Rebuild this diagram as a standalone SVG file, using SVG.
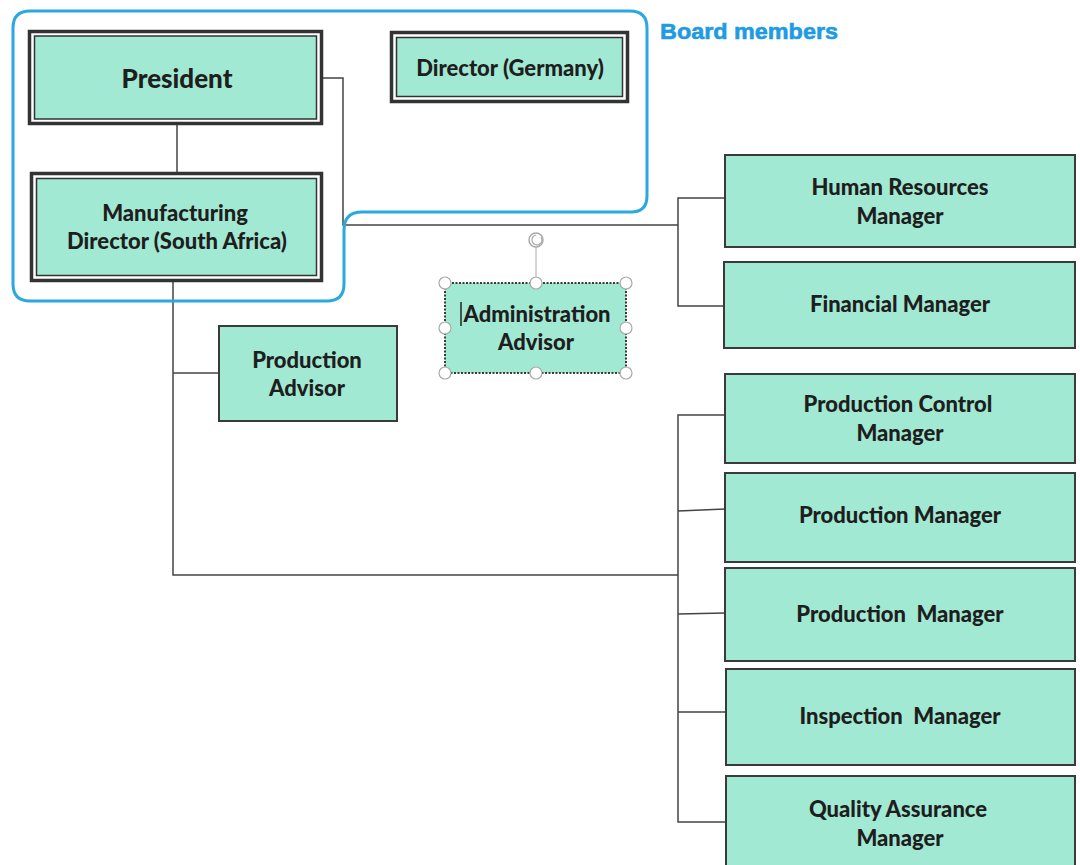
<svg xmlns="http://www.w3.org/2000/svg" width="1080" height="865" viewBox="0 0 1080 865">
<style>
.box{fill:#a2e9d3;stroke:#3a3a3a;stroke-width:2}
.outer{fill:#fff;stroke:#333;stroke-width:3.5}
.inner{fill:#a2e9d3;stroke:#333;stroke-width:1.5}
.t{font-family:Lato,"Open Sans","Liberation Sans",sans-serif;font-weight:900;font-size:22px;fill:#1e1e1e;text-anchor:middle;white-space:pre}
.big{font-size:26px}
.ln{fill:none;stroke:#444;stroke-width:1.5}
.h{fill:#fff;stroke:#aaa;stroke-width:1.2}
</style>
<rect width="1080" height="865" fill="#fff"/>
<g id="connectors">
<path class="ln" d="M177,125 V172"/>
<path class="ln" d="M323,78 H343 V225 H678"/>
<path class="ln" d="M725,198 H678 V306 H725"/>
<path class="ln" d="M173,282 V575 H678"/>
<path class="ln" d="M173,373 H219"/>
<path class="ln" d="M725,415 H678 V822 H725"/>
<path class="ln" d="M678,511 L725,509"/>
<path class="ln" d="M678,614 L725,613"/>
<path class="ln" d="M678,712 H725"/>
</g>
<g id="board">
<path d="M30,11 H630 Q647,11 647,28 V196 Q647,212 631,212 H362 Q344,212 344,230 V284 Q344,301 327,301 H30 Q13,301 13,284 V28 Q13,11 30,11 Z" fill="none" stroke="#2aa8e2" stroke-width="3"/>
<text x="660" y="39" font-family="'Liberation Sans',Arial,sans-serif" font-weight="bold" font-size="22" fill="#1e9be2" stroke="#1e9be2" stroke-width="0.6" textLength="178" lengthAdjust="spacingAndGlyphs">Board members</text>
</g>
<g id="president">
<rect class="outer" x="29.5" y="31.5" width="292" height="92"/>
<rect class="inner" x="34.5" y="36" width="282" height="83"/>
<text class="t big" x="177" y="88">President</text>
</g>
<g id="director-germany">
<rect class="outer" x="391.5" y="32.5" width="236" height="69"/>
<rect class="inner" x="396.5" y="37.5" width="226" height="59"/>
<text class="t" x="510" y="76">Director (Germany)</text>
</g>
<g id="manufacturing-director">
<rect class="outer" x="31.5" y="173.5" width="290" height="107"/>
<rect class="inner" x="36.5" y="178.5" width="280" height="97"/>
<text class="t" x="175" y="221">Manufacturing</text>
<text class="t" x="177" y="249">Director (South Africa)</text>
</g>
<g id="production-advisor">
<rect class="box" x="219" y="326" width="178" height="95"/>
<text class="t" x="307" y="368">Production</text>
<text class="t" x="307" y="396">Advisor</text>
</g>
<g id="administration-advisor">
<line x1="536" y1="247" x2="536" y2="283" stroke="#aaa" stroke-width="1"/>
<circle cx="536" cy="240" r="7" fill="#fff" stroke="#aaa" stroke-width="1.5"/>
<path d="M541,237 A5,5 0 1 1 536,235" fill="none" stroke="#aaa" stroke-width="1.2"/>
<rect class="box" x="445" y="283" width="181" height="90" stroke-dasharray="2 1.5" stroke-width="1.5"/>
<text class="t" x="537" y="322">Administration</text>
<text class="t" x="536" y="350">Advisor</text>
<line x1="461" y1="302" x2="461" y2="326" stroke="#222" stroke-width="1.5"/>
<circle class="h" cx="445" cy="283" r="6"/>
<circle class="h" cx="536" cy="283" r="6"/>
<circle class="h" cx="626" cy="283" r="6"/>
<circle class="h" cx="445" cy="328" r="6"/>
<circle class="h" cx="626" cy="328" r="6"/>
<circle class="h" cx="445" cy="373" r="6"/>
<circle class="h" cx="536" cy="373" r="6"/>
<circle class="h" cx="626" cy="373" r="6"/>
</g>
<g id="hr-manager">
<rect class="box" x="725" y="155" width="350" height="92"/>
<text class="t" x="900" y="195">Human Resources</text>
<text class="t" x="900" y="224">Manager</text>
</g>
<g id="financial-manager">
<rect class="box" x="724" y="262" width="351" height="86"/>
<text class="t" x="900" y="312">Financial Manager</text>
</g>
<g id="production-control-manager">
<rect class="box" x="725" y="374" width="350" height="89"/>
<text class="t" x="898" y="412">Production Control</text>
<text class="t" x="900" y="441">Manager</text>
</g>
<g id="production-manager-1">
<rect class="box" x="725" y="473" width="350" height="89"/>
<text class="t" x="900" y="523">Production Manager</text>
</g>
<g id="production-manager-2">
<rect class="box" x="725" y="568" width="350" height="93"/>
<text class="t" x="900" y="622">Production  Manager</text>
</g>
<g id="inspection-manager">
<rect class="box" x="726" y="669" width="349" height="96"/>
<text class="t" x="900" y="724">Inspection  Manager</text>
</g>
<g id="quality-assurance-manager">
<rect class="box" x="726" y="776" width="349" height="95"/>
<text class="t" x="898" y="817">Quality Assurance</text>
<text class="t" x="900" y="846">Manager</text>
</g>
</svg>
